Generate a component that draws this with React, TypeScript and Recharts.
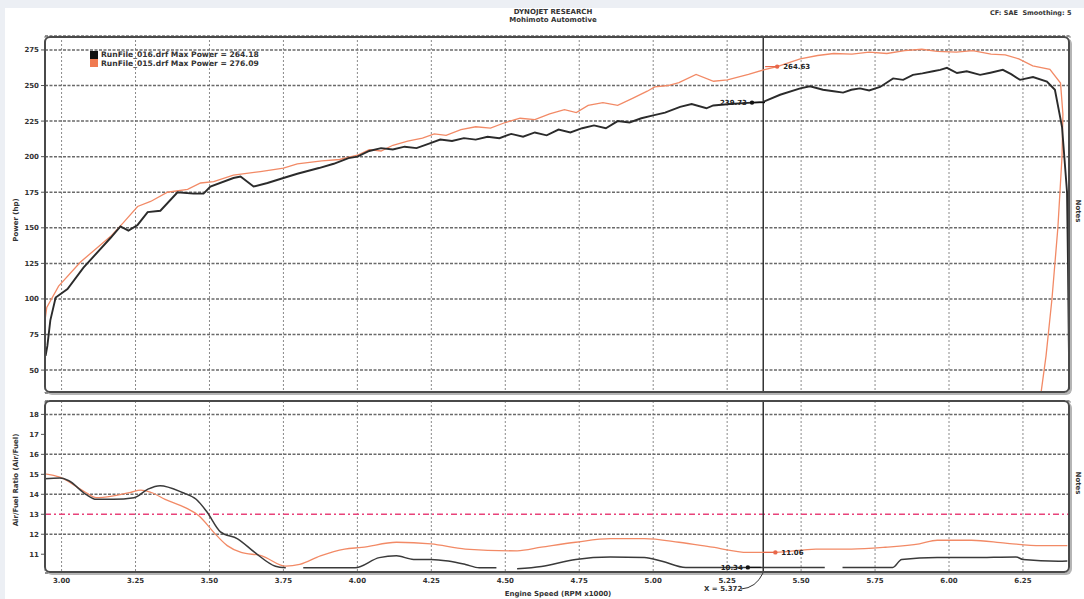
import React from "react";
import {
  LineChart,
  Line,
  XAxis,
  YAxis,
  CartesianGrid,
  ReferenceLine,
  ReferenceDot,
} from "recharts";

const rpmTicks = [3, 3.25, 3.5, 3.75, 4, 4.25, 4.5, 4.75, 5, 5.25, 5.5, 5.75, 6, 6.25];
const powerTicks = [50, 75, 100, 125, 150, 175, 200, 225, 250, 275];
const afrTicks = [11, 12, 13, 14, 15, 16, 17, 18];

// RunFile_016 (black) power
const run016Rpm = [
  2.946, 2.952, 2.962, 2.98, 3.02, 3.074, 3.166, 3.199, 3.226, 3.257, 3.291, 3.334, 3.392,
  3.446, 3.48, 3.503, 3.581, 3.605, 3.649, 3.696, 3.75, 3.797, 3.87, 3.92, 3.97, 4.0, 4.04,
  4.08, 4.12, 4.16, 4.2, 4.24, 4.28, 4.32, 4.36, 4.4, 4.44, 4.48, 4.52, 4.56, 4.6, 4.64,
  4.68, 4.72, 4.76, 4.8, 4.84, 4.88, 4.92, 4.96, 5.0, 5.04, 5.091, 5.13, 5.18, 5.203, 5.26,
  5.334, 5.372, 5.429, 5.497, 5.53, 5.574, 5.61, 5.642, 5.67, 5.699, 5.73, 5.767, 5.811,
  5.845, 5.878, 5.91, 5.946, 5.97, 5.993, 6.027, 6.06, 6.105, 6.14, 6.182, 6.21, 6.24,
  6.284, 6.331, 6.358, 6.382, 6.399, 6.402, 6.405, 6.407,
];
const run016Hp = [
  60, 67, 85, 101, 107, 122, 143, 151, 148, 152, 161, 162, 175, 174, 174, 179, 185, 186, 179,
  181.5, 185, 188, 192, 195, 199, 200, 204, 206, 205, 207, 206, 209, 212, 211, 213, 212, 214,
  213, 216, 214, 217, 215, 219, 217, 220, 222, 220, 225, 224, 227, 229, 231, 235, 237, 234,
  236, 237, 238, 238.5, 243.5, 248, 249.5, 247, 246, 245, 247, 248, 246.5, 249, 255, 254,
  257.5, 258.5, 260, 261, 262.4, 258.8, 260, 257.5, 259, 261, 258, 254, 256, 252.8, 247, 221,
  175, 128, 70, 36,
];

// RunFile_015 (orange) power
const run015Rpm = [
  2.944, 2.95, 2.99, 3.064, 3.166, 3.209, 3.257, 3.301, 3.358, 3.426, 3.47, 3.514, 3.581,
  3.672, 3.75, 3.797, 3.88, 3.94, 4.0, 4.04, 4.08, 4.12, 4.17, 4.22, 4.26, 4.3, 4.35, 4.4,
  4.45, 4.5, 4.55, 4.6, 4.65, 4.7, 4.74, 4.78, 4.83, 4.88, 4.93, 4.98, 5.005, 5.05, 5.087,
  5.145, 5.204, 5.251, 5.322, 5.38, 5.419, 5.497, 5.556, 5.61, 5.672, 5.73, 5.79, 5.85,
  5.908, 5.96, 6.025, 6.08, 6.142, 6.19, 6.236, 6.283, 6.341, 6.377, 6.385, 6.382, 6.368,
  6.348, 6.328, 6.311,
];
const run015Hp = [
  85, 94, 109, 126, 144, 153.6, 165, 168.5, 175, 177, 181.5, 182.5, 187, 189.5, 192, 195, 197,
  198, 201, 205, 204, 208, 211, 213, 216, 215, 219, 221, 220, 224, 227, 226, 230, 233, 231,
  236, 238, 236, 241, 246, 249, 250, 252, 257.8, 253, 254, 257.8, 261.4, 263.3, 268.7, 271.1,
  272.5, 272, 273.5, 272.5, 274.5, 275.5, 274, 273.5, 274.5, 272, 271.5, 268.7, 263.8, 261.4,
  251.7, 230, 200, 150, 100, 60, 34,
];

// Air/Fuel ratio, RunFile_016 (black); nulls are gaps in the trace
const afr016Rpm = [
  2.942, 2.994, 3.023, 3.082, 3.117, 3.175, 3.245, 3.292, 3.333, 3.408, 3.455, 3.49, 3.537,
  3.595, 3.653, 3.723, 3.758, 3.79, 3.817, 3.992, 4.074, 4.132, 4.19, 4.249, 4.307, 4.365,
  4.412, 4.47, 4.5, 4.54, 4.622, 4.738, 4.855, 4.97, 5.03, 5.11, 5.32, 5.58, 5.61, 5.64,
  5.81, 5.84, 5.96, 6.076, 6.227, 6.25, 6.37, 6.4,
];
const afr016 = [
  14.78, 14.81, 14.69, 14.0, 13.75, 13.75, 13.83, 14.26, 14.43, 14.09, 13.75, 13.15, 12.12,
  11.77, 11.09, 10.4, 10.32, null, 10.32, 10.32, 10.83, 10.92, 10.74, 10.74, 10.66, 10.49,
  10.32, 10.32, null, 10.27, 10.39, 10.74, 10.86, 10.83, 10.65, 10.34, 10.34, 10.34, null,
  10.34, 10.34, 10.74, 10.83, 10.83, 10.86, 10.74, 10.65, 10.66,
];

// Air/Fuel ratio, RunFile_015 (orange)
const afr015Rpm = [
  2.942, 2.994, 3.082, 3.117, 3.175, 3.233, 3.268, 3.303, 3.35, 3.42, 3.467, 3.513, 3.56,
  3.607, 3.677, 3.758, 3.805, 3.875, 3.957, 4.015, 4.132, 4.249, 4.365, 4.54, 4.622, 4.738,
  4.855, 4.97, 5.087, 5.2, 5.32, 5.413, 5.55, 5.67, 5.785, 5.9, 5.96, 6.076, 6.19, 6.31, 6.4,
];
const afr015 = [
  15.03, 14.86, 14.09, 13.83, 13.92, 14.09, 14.21, 14.09, 13.75, 13.32, 12.89, 12.12, 11.43,
  11.09, 10.92, 10.4, 10.49, 10.92, 11.26, 11.34, 11.6, 11.52, 11.26, 11.17, 11.35, 11.6,
  11.78, 11.78, 11.6, 11.35, 11.09, 11.09, 11.26, 11.26, 11.35, 11.52, 11.7, 11.7, 11.56,
  11.43, 11.43,
];

const cursorRpm = 5.372;

const zip = (xs: number[], ys: (number | null)[]) => xs.map((rpm, i) => ({ rpm, v: ys[i] }));

const BLACK = "#2b2b2b";
const ORANGE = "#f28a66";
const FONT = "'DejaVu Sans', Verdana, sans-serif";
const tickStyle = { fontSize: 7, fontWeight: 700, fill: "#333", fontFamily: FONT };

const Marker = (props: any) => {
  const { cx, cy, color, text, side } = props;
  if (cx == null || cy == null) return null;
  return (
    <g>
      {side === "right" ? (
        <line x1={cx - 12} y1={cy} x2={cx} y2={cy} stroke={color} strokeWidth={1.2} />
      ) : (
        <line x1={cx} y1={cy} x2={cx + 13} y2={cy} stroke={color} strokeWidth={1.2} />
      )}
      <circle cx={cx} cy={cy} r={2.2} fill={color} />
      <text
        x={side === "right" ? cx + 6 : cx - 5}
        y={cy + 2.5}
        textAnchor={side === "right" ? "start" : "end"}
        style={{ fontSize: 7, fontWeight: 700, fill: "#222", fontFamily: FONT }}
      >
        {text}
      </text>
    </g>
  );
};

const frame = (top: number, height: number): React.CSSProperties => ({
  position: "absolute",
  left: 44,
  top,
  width: 1026,
  height,
  boxSizing: "border-box",
  border: "2px solid #4a4a4a",
  borderRadius: 6,
  boxShadow: "2px 2px 0 #b5b5b5",
  pointerEvents: "none",
});

const small: React.CSSProperties = {
  position: "absolute",
  fontFamily: FONT,
  fontWeight: 700,
  fontSize: 7,
  color: "#333",
  whiteSpace: "nowrap",
  lineHeight: "8px",
};

export default function App() {
  const p016 = zip(run016Rpm, run016Hp);
  const p015 = zip(run015Rpm, run015Hp);
  const a016 = zip(afr016Rpm, afr016);
  const a015 = zip(afr015Rpm, afr015);

  return (
    <div
      style={{
        position: "absolute",
        top: 0,
        left: 0,
        width: 1084,
        height: 599,
        background: "#eceff4",
        overflow: "hidden",
      }}
    >
      <div style={{ position: "absolute", left: 5, top: 8, width: 1079, height: 591, background: "#fff" }} />

      {/* Power panel */}
      <div style={{ position: "absolute", left: 0, top: 0 }}>
        <LineChart width={1084} height={400} margin={{ top: 36, right: 14, bottom: 7, left: 0 }}>
          <CartesianGrid
            horizontal={false}
            stroke="#8a8a8a"
            strokeWidth={1}
            strokeDasharray="2 2"
          />
          <CartesianGrid
            vertical={false}
            stroke="#6a6a6a"
            strokeWidth={1.5}
            strokeDasharray="3 1.5"
          />
          <XAxis
            type="number"
            dataKey="rpm"
            domain={[2.944, 6.409]}
            ticks={rpmTicks}
            allowDataOverflow
            hide
          />
          <YAxis
            type="number"
            domain={[33.9, 284.8]}
            ticks={powerTicks}
            allowDataOverflow
            width={45}
            axisLine={false}
            tickSize={4}
            tickMargin={2}
            tickLine={{ stroke: "#555" }}
            tick={tickStyle}
          />
          <ReferenceLine x={cursorRpm} stroke="#333" strokeWidth={1.5} />
          <Line
            data={p015}
            dataKey="v"
            type="linear"
            stroke={ORANGE}
            strokeWidth={1.3}
            dot={false}
            isAnimationActive={false}
          />
          <Line
            data={p016}
            dataKey="v"
            type="linear"
            stroke={BLACK}
            strokeWidth={1.9}
            dot={false}
            isAnimationActive={false}
          />
          <ReferenceDot
            x={5.419}
            y={263.3}
            shape={(p: any) => <Marker {...p} color="#e8674a" text="264.63" side="right" />}
          />
          <ReferenceDot
            x={5.334}
            y={238}
            shape={(p: any) => <Marker {...p} color="#111" text="239.73" side="left" />}
          />
        </LineChart>
      </div>

      {/* Air/Fuel panel */}
      <div style={{ position: "absolute", left: 0, top: 393 }}>
        <LineChart width={1084} height={206} margin={{ top: 8, right: 14, bottom: 6, left: 0 }}>
          <CartesianGrid
            horizontal={false}
            stroke="#8a8a8a"
            strokeWidth={1}
            strokeDasharray="2 2"
          />
          <CartesianGrid
            vertical={false}
            stroke="#6a6a6a"
            strokeWidth={1.5}
            strokeDasharray="3 1.5"
          />
          <XAxis
            type="number"
            dataKey="rpm"
            domain={[2.944, 6.409]}
            ticks={rpmTicks}
            allowDataOverflow
            height={20}
            axisLine={false}
            tickLine={false}
            tickSize={3}
            tickMargin={2}
            tick={tickStyle}
            tickFormatter={(v: number) => v.toFixed(2)}
          />
          <YAxis
            type="number"
            domain={[10.06, 18.67]}
            ticks={afrTicks}
            allowDataOverflow
            width={45}
            axisLine={false}
            tickSize={4}
            tickMargin={2}
            tickLine={{ stroke: "#555" }}
            tick={tickStyle}
          />
          <ReferenceLine y={13} stroke="#e8437a" strokeWidth={1.6} strokeDasharray="6 3 2 3" />
          <ReferenceLine x={cursorRpm} stroke="#333" strokeWidth={1.5} />
          <Line
            data={a015}
            dataKey="v"
            type="monotone"
            stroke={ORANGE}
            strokeWidth={1.3}
            dot={false}
            isAnimationActive={false}
          />
          <Line
            data={a016}
            dataKey="v"
            type="monotone"
            stroke="#3a3a3a"
            strokeWidth={1.5}
            dot={false}
            connectNulls={false}
            isAnimationActive={false}
          />
          <ReferenceDot
            x={5.413}
            y={11.09}
            shape={(p: any) => <Marker {...p} color="#e8674a" text="11.06" side="right" />}
          />
          <ReferenceDot
            x={5.32}
            y={10.34}
            shape={(p: any) => <Marker {...p} color="#111" text="10.34" side="left" />}
          />
        </LineChart>
      </div>

      <div style={frame(36, 357)} />
      <div style={frame(400, 173)} />

      {/* cursor readout leader */}
      <svg
        width={1084}
        height={599}
        style={{ position: "absolute", left: 0, top: 0, pointerEvents: "none" }}
      >
        <path d="M741 589 Q756 588 763 573" fill="none" stroke="#333" strokeWidth={1} />
      </svg>

      {/* Header */}
      <div style={{ ...small, left: 503, top: 8, width: 100, textAlign: "center" }}>
        DYNOJET RESEARCH
        <br />
        Mohimoto Automotive
      </div>
      <div style={{ ...small, left: 990, top: 9, fontSize: 6.5 }}>CF: SAE&nbsp;&nbsp;Smoothing: 5</div>

      {/* Legend */}
      <div style={{ position: "absolute", left: 90, top: 51, width: 8, height: 8, background: "#111" }} />
      <div style={{ position: "absolute", left: 90, top: 59, width: 8, height: 8, background: "#f07a50" }} />
      <div style={{ ...small, left: 101, top: 51, fontSize: 7.6 }}>RunFile_016.drf Max Power = 264.18</div>
      <div style={{ ...small, left: 101, top: 60, fontSize: 7.6 }}>RunFile_015.drf Max Power = 276.09</div>

      {/* Axis titles */}
      <div
        style={{
          ...small,
          left: 16,
          top: 220,
          transform: "translate(-50%, -50%) rotate(-90deg)",
        }}
      >
        Power (hp)
      </div>
      <div
        style={{
          ...small,
          left: 16,
          top: 480,
          transform: "translate(-50%, -50%) rotate(-90deg)",
        }}
      >
        Air/Fuel Ratio (Air/Fuel)
      </div>
      <div style={{ ...small, left: 558, top: 590, transform: "translateX(-50%)" }}>
        Engine Speed (RPM x1000)
      </div>
      <div style={{ ...small, left: 704, top: 585 }}>X = 5.372</div>
      <div
        style={{
          ...small,
          left: 1078,
          top: 211,
          transform: "translate(-50%, -50%) rotate(90deg)",
        }}
      >
        Notes
      </div>
      <div
        style={{
          ...small,
          left: 1078,
          top: 483,
          transform: "translate(-50%, -50%) rotate(90deg)",
        }}
      >
        Notes
      </div>
    </div>
  );
}
